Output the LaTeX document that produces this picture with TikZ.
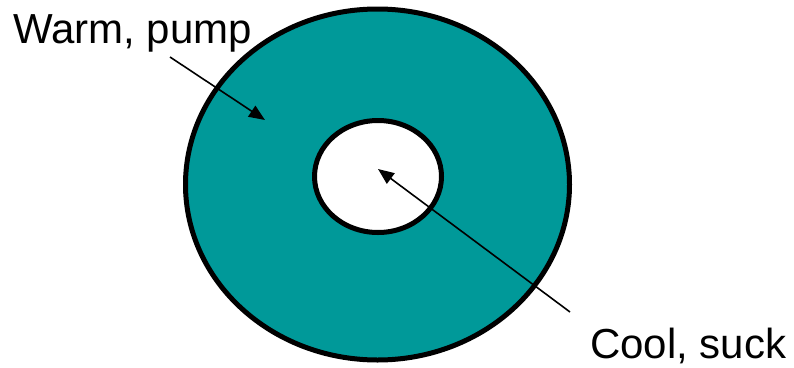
\documentclass[tikz,border=0pt]{standalone}
\usepackage{fontspec}
\setmainfont{Liberation Sans}
\usetikzlibrary{shapes.geometric,arrows.meta}
\definecolor{tealfill}{RGB}{0,153,153}
\tikzset{
  ring/.style={ellipse, draw=black, line width=5pt, inner sep=0pt},
  label/.style={font=\fontsize{42}{48}\selectfont, inner sep=0pt, anchor=base west},
  pointer/.style={line width=1.6pt, -{Triangle[length=16pt,width=13pt]}}
}
\begin{document}
\begin{tikzpicture}[x=1pt,y=-1pt]
\useasboundingbox (0,0) rectangle (794,367);
\node[ring, fill=tealfill, minimum width=384pt, minimum height=351pt] (outer) at (377.5,184.5) {};
\node[ring, fill=white, minimum width=127pt, minimum height=112pt] (inner) at (378,176.5) {};
\node[label] (warm) at (13,43) {Warm, pump};
\node[label] (cool) at (590,358) {Cool, suck};
\coordinate (wtail) at (170,57);
\coordinate (wtip) at (265,120);
\coordinate (ctail) at (570,312);
\coordinate (ctip) at (378,169);
\draw[pointer] (wtail) -- (wtip);
\draw[pointer] (ctail) -- (ctip);
\end{tikzpicture}
\end{document}
